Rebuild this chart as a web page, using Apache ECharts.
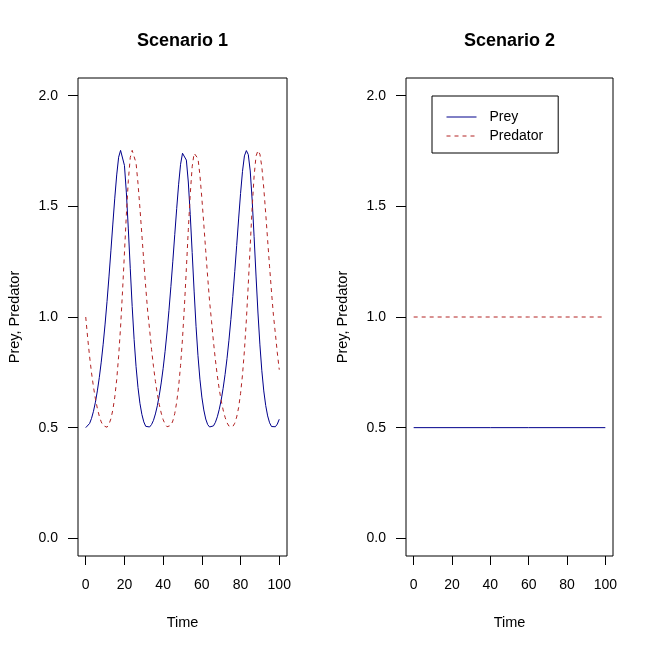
<!DOCTYPE html>
<html>
<head>
<meta charset="utf-8">
<script src="https://cdn.jsdelivr.net/npm/echarts@6/dist/echarts.min.js"></script>
<style>
html,body{margin:0;padding:0;background:#fff;}
#chart{width:653px;height:653px;}
</style>
</head>
<body>
<div id="chart"></div>
<script>
// ---- data ----
const titles = ['Scenario 1', 'Scenario 2'];
const seriesNames = ['Prey', 'Predator'];
const xTicks = [0, 20, 40, 60, 80, 100];
const yTicks = [0, 0.5, 1, 1.5, 2];

const time1 = [0,1,2,3,4,5,6,7,8,9,10,11,12,13,14,15,16,17,18,19,20,21,22,23,24,25,26,27,28,29,30,31,32,33,34,35,36,37,38,39,40,41,42,43,44,45,46,47,48,49,50,51,52,53,54,55,56,57,58,59,60,61,62,63,64,65,66,67,68,69,70,71,72,73,74,75,76,77,78,79,80,81,82,83,84,85,86,87,88,89,90,91,92,93,94,95,96,97,98,99,100];

const prey1 = [
  0.500,0.505,0.519,0.542,0.574,0.615,0.666,0.726,0.796,0.877,0.968,1.070,1.181,1.299,1.420,1.537,1.642,1.722,1.753,1.746,1.685,1.561,1.398,1.220,1.048,0.898,0.776,0.681,0.610,0.560,0.526,0.506,0.500,
  0.503,0.514,0.533,0.562,0.599,0.646,0.702,0.768,0.845,0.932,1.030,1.137,1.252,1.372,1.490,1.600,1.690,1.740,1.749,1.709,1.610,1.463,1.291,1.117,0.958,0.825,0.719,0.638,0.580,0.539,0.514,0.503,
  0.501,0.508,0.524,0.549,0.583,0.625,0.678,0.740,0.812,0.895,0.989,1.093,1.205,1.323,1.443,1.558,1.658,1.728,1.752,1.734,1.660,1.528,1.363,1.185,1.018,0.874,0.757,0.666,0.600,0.553,0.522,0.505,0.500,
  0.504,0.516,0.538
];

const predator1 = [
  1.000,0.905,0.821,0.747,0.684,0.630,0.587,0.552,0.526,0.509,0.501,0.502,0.515,0.540,0.580,0.638,0.717,0.823,0.955,1.114,1.289,1.465,1.616,1.721,1.753,1.746,1.696,1.604,1.492,1.372,1.251,1.134,1.027,
  0.943,0.854,0.777,0.709,0.652,0.604,0.566,0.536,0.516,0.504,0.502,0.510,0.530,0.564,0.615,0.686,0.781,0.902,1.050,1.219,1.394,1.555,1.679,1.740,1.749,1.716,1.641,1.537,1.420,1.299,1.181,1.070,
  0.981,0.888,0.806,0.734,0.673,0.622,0.580,0.547,0.522,0.507,0.501,0.505,0.520,0.548,0.591,0.654,0.738,0.849,0.987,1.149,1.324,1.495,1.637,1.727,1.752,1.736,1.678,1.582,1.468,1.347,1.227,1.113,1.007,
  0.924,0.838,0.762
];

const time2 = [0, 20, 40, 60, 80, 100];
const prey2 = [0.5, 0.5, 0.5, 0.5, 0.5, 0.5];
const predator2 = [1.0, 1.0, 1.0, 1.0, 1.0, 1.0];

// ---- chart ----
const FONT = "'Liberation Sans', Arial, sans-serif";
const PREY_COLOR = '#00008B';
const PRED_COLOR = '#B22222';

function pairs(xs, ys) { return xs.map((x, i) => [x, ys[i]]); }

const grids = [
  {left: 78, top: 78, width: 209, height: 478},
  {left: 406, top: 78, width: 207, height: 478}
];

const option = {
  animation: false,
  backgroundColor: '#fff',
  textStyle: {fontFamily: FONT},
  title: titles.map((t, i) => ({
    text: t,
    left: grids[i].left + grids[i].width / 2,
    textAlign: 'center',
    top: 32,
    padding: 0,
    textStyle: {fontFamily: FONT, fontSize: 18, fontWeight: 'bold', color: '#000'}
  })),
  legend: {
    data: seriesNames,
    orient: 'vertical',
    left: 432,
    top: 96,
    borderColor: '#000',
    borderWidth: 1,
    borderRadius: 0,
    padding: [14, 15, 10, 14],
    itemWidth: 30,
    itemHeight: 14,
    itemGap: 5,
    selectedMode: false,
    itemStyle: {opacity: 0, borderWidth: 0},
    lineStyle: {width: 1},
    textStyle: {fontFamily: FONT, fontSize: 14, color: '#000', padding: [0, 0, 0, 8]}
  },
  grid: grids.map(g => Object.assign({show: true, borderColor: '#000', borderWidth: 1, backgroundColor: 'transparent', containLabel: false}, g)),
  xAxis: grids.map((g, i) => ({
    type: 'value',
    gridIndex: i,
    min: -4,
    max: 104,
    position: 'bottom',
    name: 'Time',
    nameLocation: 'middle',
    nameGap: 59,
    nameTextStyle: {fontFamily: FONT, fontSize: 14.5, color: '#000'},
    axisLine: {show: false, onZero: false},
    splitLine: {show: false},
    axisTick: {show: true, inside: false, length: 9, customValues: xTicks, lineStyle: {color: '#000', width: 1}},
    axisLabel: {show: true, margin: 22, customValues: xTicks, fontFamily: FONT, fontSize: 14, color: '#000'}
  })),
  yAxis: grids.map((g, i) => ({
    type: 'value',
    gridIndex: i,
    min: -0.08,
    max: 2.08,
    position: 'left',
    name: 'Prey, Predator',
    nameLocation: 'middle',
    nameGap: 56,
    nameTextStyle: {fontFamily: FONT, fontSize: 14.5, color: '#000'},
    axisLine: {show: false, onZero: false},
    splitLine: {show: false},
    axisTick: {show: true, inside: false, length: 10, customValues: yTicks, lineStyle: {color: '#000', width: 1}},
    axisLabel: {show: true, margin: 20, customValues: yTicks, fontFamily: FONT, fontSize: 14, color: '#000',
      formatter: v => Number(v).toFixed(1)}
  })),
  series: [
    {name: 'Prey', type: 'line', xAxisIndex: 0, yAxisIndex: 0, data: pairs(time1, prey1), symbol: 'none', showSymbol: false,
      lineStyle: {color: PREY_COLOR, width: 1, type: 'solid'}, itemStyle: {color: PREY_COLOR}},
    {name: 'Predator', type: 'line', xAxisIndex: 0, yAxisIndex: 0, data: pairs(time1, predator1), symbol: 'none', showSymbol: false,
      lineStyle: {color: PRED_COLOR, width: 1, type: [4, 4]}, itemStyle: {color: PRED_COLOR}},
    {name: 'Prey', type: 'line', xAxisIndex: 1, yAxisIndex: 1, data: pairs(time2, prey2), symbol: 'none', showSymbol: false,
      lineStyle: {color: PREY_COLOR, width: 1, type: 'solid'}, itemStyle: {color: PREY_COLOR}},
    {name: 'Predator', type: 'line', xAxisIndex: 1, yAxisIndex: 1, data: pairs(time2, predator2), symbol: 'none', showSymbol: false,
      lineStyle: {color: PRED_COLOR, width: 1, type: [4, 4]}, itemStyle: {color: PRED_COLOR}}
  ]
};

const chart = echarts.init(document.getElementById('chart'), null, {renderer: 'canvas'});
chart.setOption(option);
</script>
</body>
</html>
